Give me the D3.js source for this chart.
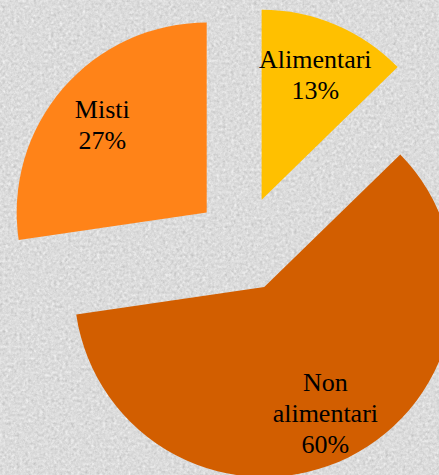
<!DOCTYPE html>
<html>
<head>
<meta charset="utf-8">
<script src="https://cdn.jsdelivr.net/npm/d3@7"></script>
<style>
  html, body { margin: 0; padding: 0; background: #dcdcdc; }
  svg { display: block; }
</style>
</head>
<body>
<svg id="chart" width="439" height="475"></svg>
<script>
// Data
const categories = ["Alimentari", "Non alimentari", "Misti"];
const labelLines = [["Alimentari"], ["Non", "alimentari"], ["Misti"]];
const values = [12.7, 60.0, 27.3];
const colors = ["#FFC000", "#D25E00", "#FF8318"];

const W = 439, H = 475;
const cx = 243, cy = 244, R = 190, explode = 48, labelR = 138;
const fontSize = 26, lineH = 31;

const svg = d3.select("#chart");

// textured background
const defs = svg.append("defs");
const f = defs.append("filter").attr("id", "noise").attr("x", 0).attr("y", 0)
  .attr("width", "100%").attr("height", "100%")
  .attr("color-interpolation-filters", "sRGB");
f.append("feTurbulence").attr("type", "fractalNoise").attr("baseFrequency", 0.35).attr("numOctaves", 3).attr("seed", 7).attr("result", "t");
f.append("feColorMatrix").attr("type", "matrix")
  .attr("values", "0.12 0.12 0.12 0 0.68  0.12 0.12 0.12 0 0.68  0.12 0.12 0.12 0 0.68  0 0 0 0 1");
svg.append("rect").attr("width", W).attr("height", H).attr("fill", "#dadada");
svg.append("rect").attr("width", W).attr("height", H).attr("filter", "url(#noise)");

const pie = d3.pie().sort(null).value(d => d)(values);
const arc = d3.arc().innerRadius(0).outerRadius(R);

const g = svg.append("g").attr("transform", `translate(${cx},${cy})`);

const slices = g.selectAll("g.slice").data(pie).join("g")
  .attr("class", "slice")
  .attr("transform", d => {
    const a = (d.startAngle + d.endAngle) / 2;
    return `translate(${explode * Math.sin(a)},${-explode * Math.cos(a)})`;
  });

slices.append("path").attr("d", arc).attr("fill", (d, i) => colors[i]);

slices.each(function(d, i) {
  const a = (d.startAngle + d.endAngle) / 2;
  const lx = labelR * Math.sin(a), ly = -labelR * Math.cos(a);
  const lines = labelLines[i].concat([Math.round(values[i]) + "%"]);
  const n = lines.length;
  const t = d3.select(this).append("text")
    .attr("text-anchor", "middle")
    .attr("font-family", "'Liberation Serif', 'Times New Roman', serif")
    .attr("font-size", fontSize)
    .attr("fill", "#000");
  lines.forEach((s, k) => {
    t.append("tspan").attr("x", lx)
      .attr("y", ly + (k - (n - 1) / 2) * lineH + 11)
      .text(s);
  });
});
</script>
</body>
</html>
